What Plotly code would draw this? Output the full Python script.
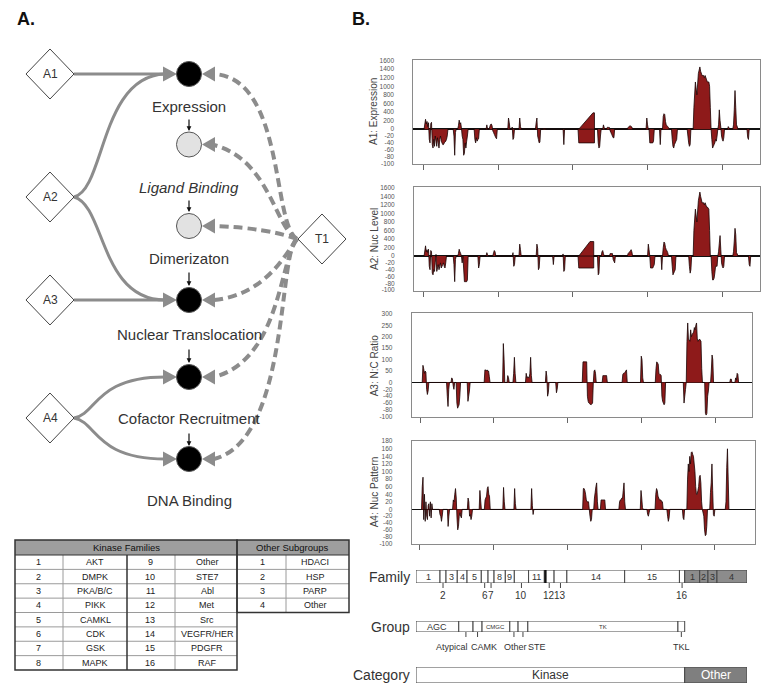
import plotly.graph_objects as go

W, H = 768, 690
FONT = "Liberation Sans, Arial, sans-serif"

# ---------------- data ----------------
# compound index along the screen, and value per assay
a1_idx = [1,3,4,5,6,7,8,9,10,11,12,13,14,15,16,17,18,19,20,21,22,23,24,25,26,27,28,29,30,31,32,33,
          40,41,42,43,44,46,47,48,49,50,51,52,53,54,55,56,57,58,59,60,
          68,69,70,71,72,73,74,75,84,85,86,88,89,90,91,92,93,94,95,96,97,98,99,
          113,114,115,116,118,119,120,121,122,128,129,130,131,150,151,152,153,154,155,156,157,
          160,161,163,164,187,188,189,
          207,208,229,229,227,208,
          233,234,235,236,237,238,240,241,242,243,245,246,247,248,249,250,251,252,253,254,255,256,
          273,274,275,276,277,278,279,280,298,299,300,301,302,303,304,305,306,307,308,309,316,317,318,
          320,321,322,323,324,325,326,327,328,329,332,333,334,335,336,337,338,339,340,
          353,354,355,356,357,358,
          361,362,364,366,368,370,371,373,375,376,377,379,380,382,383,384,385,
          386,387,388,389,390,391,392,393,394,395,396,397,398,399,400,401,402,403,
          407,408,409,410,414,415,416,417,418,419,420,421,433,434,435,436]
a1_val = [0,230,120,180,60,150,-30,-40,130,160,-45,-55,-30,-50,-20,-35,-50,-25,-40,-55,-30,-20,-35,-40,-45,-45,-40,-38,-35,-30,-20,0,
          0,-20,-76,-10,0,0,80,210,120,150,30,-20,-30,-76,-70,-40,-55,-35,-20,0,
          0,-30,-40,-25,-35,-30,-28,0,0,100,0,0,60,110,120,80,-5,-10,-15,-20,-25,-28,0,
          0,260,150,0,0,50,-30,-25,0,0,260,60,0,0,150,260,-20,-30,-40,-38,0,
          0,15,15,0,0,-45,0,
          0,-40,-40,380,380,0,
          0,-40,-55,-50,-20,0,0,100,40,0,0,40,45,40,40,-5,-10,-15,-20,-25,-25,0,
          0,40,60,70,80,60,50,0,0,260,100,0,0,-40,-40,-40,-40,-40,-35,0,0,-45,0,
          0,300,360,340,180,100,80,60,40,0,0,-30,-50,-55,-45,-40,-35,-30,0,
          0,-20,-40,-50,-45,0,
          0,500,1100,800,1300,1450,1350,1250,1250,1200,1250,1150,1100,1100,1000,500,0,
          -30,-55,-50,-45,-40,-30,-35,-20,0,100,450,200,50,-20,-30,-35,-25,0,
          0,60,30,0,0,100,450,900,500,100,60,0,0,-25,-30,0]

a2_idx = [1,3,4,5,6,7,8,9,10,11,12,13,14,15,16,17,18,19,20,21,22,23,24,25,26,27,28,29,30,31,
          40,41,42,43,44,46,47,48,49,50,51,52,53,55,56,57,58,59,60,
          73,74,75,76,84,85,86,87,93,94,95,96,97,
          119,120,121,122,123,128,129,130,131,151,152,153,154,155,156,173,174,175,186,187,188,189,190,
          207,208,228,228,223,208,
          233,234,235,236,238,239,240,241,242,249,250,251,252,253,254,255,256,257,
          273,274,275,276,277,278,279,280,300,301,302,303,304,305,306,307,308,309,310,318,319,
          320,321,322,323,324,325,326,327,328,332,333,334,335,336,337,338,355,356,357,358,359,
          361,362,364,366,368,370,371,373,375,376,377,379,380,382,383,384,
          385,386,387,388,389,390,391,392,393,394,395,396,397,398,399,400,401,402,403,
          414,415,416,417,418,419,420,421,435,436,437,438]
a2_val = [0,240,100,150,80,160,-30,-40,130,100,-50,-55,-40,-45,-20,40,-45,-35,-25,-40,-30,-20,-35,-30,-25,-20,-30,-35,-20,0,
          0,-25,-75,-10,0,0,60,160,100,60,0,-20,0,-75,-75,-75,-75,-70,0,
          0,-35,-25,0,0,80,30,0,0,80,130,100,0,
          0,80,-30,-25,0,0,280,150,0,0,280,180,-40,-35,0,0,-25,0,0,50,-45,-40,0,
          0,-35,-35,340,340,0,
          0,-55,-50,0,0,100,130,60,0,0,60,60,60,60,-10,-15,-20,0,
          0,60,80,100,120,150,100,0,0,280,150,0,-35,-35,-35,-35,-30,-25,0,0,-40,
          0,200,330,300,200,150,120,80,0,0,-30,-55,-50,-45,-40,0,0,-30,-50,-40,0,
          0,600,1100,800,1300,1500,1400,1250,1250,1200,1250,1150,1150,1100,600,0,
          0,-45,-70,-70,-65,-50,-30,-30,-30,0,100,300,480,150,-20,-30,-35,-30,0,
          0,100,350,650,500,80,50,0,0,-25,-30,0]

a3_idx = [3,4,5,6,7,8,9,10,11,12,36,37,38,39,40,42,43,44,45,46,47,49,50,51,52,53,54,55,
          64,65,66,67,68,87,88,89,90,91,92,93,94,95,112,113,114,115,118,119,120,121,
          126,127,128,129,130,143,144,145,146,148,149,150,151,152,170,171,172,173,174,175,184,185,186,187,
          220,221,224,226,227,228,229,230,232,234,235,236,237,238,239,
          247,248,249,250,251,252,253,254,274,275,276,277,278,279,280,281,299,300,301,302,303,
          319,320,321,322,323,324,325,326,327,328,329,330,331,332,333,357,358,359,360,361,
          362,363,364,366,367,368,369,371,372,373,374,375,376,377,379,381,382,383,
          386,387,388,389,390,391,392,394,395,396,397,398,420,421,422,423,427,428,429,430,431,432]
a3_val = [0,75,60,40,50,45,-20,-35,-25,0,0,-40,-70,-20,0,0,20,15,-10,-20,0,0,-60,-75,-70,-65,-40,0,
          0,-55,-40,-25,0,0,55,55,50,55,50,50,25,0,0,170,100,0,0,30,20,0,
          0,40,110,40,0,0,40,20,25,20,40,110,30,0,0,50,25,-40,-30,0,0,-30,-20,0,
          0,90,90,90,-40,-55,-60,-62,-65,-60,0,50,55,40,0,
          0,30,30,30,30,30,30,0,0,35,40,40,45,50,55,0,0,115,100,20,0,
          0,60,90,85,80,40,35,35,30,-40,-55,-60,-65,-60,0,0,-60,-40,-20,0,
          180,260,190,180,230,200,210,220,240,230,250,260,190,180,190,180,60,0,
          0,-90,-95,-90,-40,-25,0,0,50,120,100,0,0,15,15,0,0,20,10,40,35,0]

a4_idx = [3,4,5,6,7,8,9,10,11,12,13,14,15,16,17,18,27,28,29,30,31,32,38,39,40,41,
          45,46,47,48,49,50,51,52,53,54,55,56,57,58,65,66,67,68,69,70,71,72,81,82,83,84,
          88,89,90,91,92,93,94,95,96,113,114,115,116,128,129,130,131,151,152,153,154,155,
          221,222,223,224,225,226,227,228,229,230,231,232,233,234,236,237,238,239,240,241,242,
          245,246,247,248,249,250,251,252,270,271,272,273,274,275,276,277,278,279,
          299,300,301,302,303,308,309,310,311,312,
          319,320,321,322,323,324,325,326,327,328,329,330,335,336,337,338,339,356,357,358,359,
          362,363,364,365,366,367,368,369,370,371,372,373,374,375,376,377,378,379,380,381,382,383,
          385,386,387,388,389,390,393,394,395,396,397,398,399,400,414,415,416,417,418,419]
a4_val = [0,60,85,-30,40,-35,20,-20,-30,10,15,-20,20,-25,15,0,0,-15,-20,-35,-20,0,0,-50,-20,0,
          0,25,20,40,55,30,-25,-60,-50,-20,-10,-20,-25,0,0,30,20,-20,-15,-30,-20,0,0,50,25,0,
          0,25,30,35,55,60,40,35,0,0,58,20,0,0,55,15,0,0,55,10,-15,0,
          0,55,55,50,40,25,20,20,20,0,-20,-35,-30,0,0,30,45,60,70,20,0,
          0,25,25,25,25,25,25,0,0,20,25,25,30,30,50,70,20,0,
          0,50,30,5,0,0,-15,-20,-10,0,
          0,40,55,50,35,30,25,25,25,20,20,0,0,-20,-35,-25,0,0,-25,-30,0,
          0,80,120,100,140,120,150,152,145,140,120,100,60,40,40,50,60,85,90,70,20,0,
          -20,-60,-77,-75,-50,0,0,45,70,120,50,-15,-20,0,0,20,110,160,80,0]

a1_ticks = [1600, 1400, 1200, 1000, 800, 600, 400, 200, 0, -20, -40, -60, -80, -100]
a2_ticks = [1600, 1400, 1200, 1000, 800, 600, 400, 200, 0, -20, -40, -60, -80, -100]
a3_ticks = [300, 250, 200, 150, 100, 50, 0, -20, -40, -60, -80, -100]
a4_ticks = [180, 160, 140, 120, 100, 80, 60, 40, 20, 0, -20, -40, -60, -80, -100]
x_ticks = [0, 100, 200, 300, 400]

family_labels = ['1', '2', '3', '4', '5', '6', '7', '8', '9', '10', '11', '12', '13', '14', '15', '16',
                 '1', '2', '3', '4']
family_sizes = [32, 8, 15, 13, 19, 9, 8, 15, 12, 19, 21, 13, 17, 77, 73, 7, 20, 11, 12, 40]
family_below = ['2', '6', '7', '10', '12', '13', '16']

group_names = ['AGC', 'Atypical', 'CAMK', 'CMGC', 'Other', 'STE', 'TK', 'TKL']
group_sizes = [57, 19, 12, 37, 11, 13, 200, 9]

category_names = ['Kinase', 'Other']
n_kinase_families = 16

kinase_families = ['AKT', 'DMPK', 'PKA/B/C', 'PIKK', 'CAMKL', 'CDK', 'GSK', 'MAPK',
                   'Other', 'STE7', 'Abl', 'Met', 'Src', 'VEGFR/HER', 'PDGFR', 'RAF']
other_subgroups = ['HDACI', 'HSP', 'PARP', 'Other']

pathway_steps = ['Expression', '<i>Ligand Binding</i>', 'Dimerizaton', 'Nuclear Translocation',
                 'Cofactor Recruitment', 'DNA Binding']
assays = ['A1', 'A2', 'A3', 'A4']


# ---------------- helpers ----------------
def X(px):
    return px / W


def Y(py):
    return 1 - py / H


def to_axis(vals, top):
    return [v * 2.0 / top if v >= 0 else v / 100.0 for v in vals]


def cumstarts(sizes):
    out, s = [], 0
    for v in sizes:
        out.append(s)
        s += v
    return out


def pt(p):
    return f"{X(p[0]):.5f},{Y(p[1]):.5f}"


def path(cmds):
    parts = []
    for letter, pts in cmds:
        parts.append(letter + " " + " ".join(pt(p) for p in pts))
    return " ".join(parts)


def poly(points):
    return "M " + pt(points[0]) + " " + " ".join("L " + pt(p) for p in points[1:]) + " Z"


fig = go.Figure()
shapes = []
annos = []


def txt(x, y, text, size=10, color='#333', xanchor='center', yanchor='middle', angle=0, xref='paper', xshift=0):
    annos.append(dict(x=x if xref != 'paper' else X(x), y=Y(y), xref=xref, yref='paper', text=text,
                      showarrow=False, xanchor=xanchor, yanchor=yanchor, textangle=angle, xshift=xshift,
                      font=dict(family=FONT, size=size, color=color)))


# ---------------- panel B: four area plots ----------------
panels = [
    dict(title='A1: Expression', idx=a1_idx, val=a1_val, ticks=a1_ticks, box=(413.3, 760, 60, 164), t0=423.3, step=74.75),
    dict(title='A2: Nuc Level', idx=a2_idx, val=a2_val, ticks=a2_ticks, box=(414, 760, 187.3, 290.7), t0=423.3, step=74.75),
    dict(title='A3: N:C Ratio', idx=a3_idx, val=a3_val, ticks=a3_ticks, box=(411.7, 752.3, 313.3, 417.3), t0=420.0, step=73.75),
    dict(title='A4: Nuc Pattern', idx=a4_idx, val=a4_val, ticks=a4_ticks, box=(411.7, 755, 440.7, 544), t0=419.3, step=73.9),
]

for i, p in enumerate(panels, start=1):
    top = p['ticks'][0]
    sfx = '' if i == 1 else str(i)
    fig.add_trace(go.Scatter(x=p['idx'], y=to_axis(p['val'], top), mode='lines', fill='tozeroy',
                             fillcolor='#8e1a1a', line=dict(color='#1a0505', width=0.8, simplify=False),
                             xaxis='x' + sfx, yaxis='y' + sfx, hoverinfo='skip', showlegend=False))
    x0, x1, y0, y1 = p['box']
    xr = [(x0 - p['t0']) / p['step'] * 100, (x1 - p['t0']) / p['step'] * 100]
    fig.update_layout(**{
        'xaxis' + sfx: dict(domain=[X(x0), X(x1)], range=xr, anchor='y' + sfx, showgrid=False, zeroline=False,
                            showline=True, mirror=True, linecolor='#8a8a8a', linewidth=1,
                            ticks='outside', tickvals=x_ticks, ticklen=5, tickcolor='#666',
                            showticklabels=False, fixedrange=True),
        'yaxis' + sfx: dict(domain=[Y(y1), Y(y0)], range=[-1.015, 2.015], anchor='x' + sfx, showgrid=False,
                            zeroline=True, zerolinecolor='#111', zerolinewidth=1.5,
                            showline=True, mirror=True, linecolor='#8a8a8a', linewidth=1,
                            tickvals=to_axis(p['ticks'], top), ticktext=[str(t) for t in p['ticks']],
                            tickfont=dict(family=FONT, size=6.5, color='#555'), ticks='',
                            ticklabelstandoff=17, fixedrange=True),
    })
    txt(374, (y0 + y1) / 2, p['title'], size=10, color='#444', angle=-90)

# ---------------- panel B: family / group / category bars ----------------
BAR_L, BAR_R = 416, 747
total = sum(family_sizes)
fam_start = cumstarts(family_sizes)
grp_start = cumstarts(group_sizes)
cat_sizes = [sum(family_sizes[:n_kinase_families]), sum(family_sizes[n_kinase_families:])]
cat_start = cumstarts(cat_sizes)

fam_colors = ['white'] * n_kinase_families + ['#8c8c8c'] * (len(family_sizes) - n_kinase_families)
fig.add_trace(go.Bar(x=family_sizes, base=fam_start, y=[0] * len(family_sizes), orientation='h', width=1,
                     marker=dict(color=fam_colors, line=dict(color='#444', width=1)),
                     xaxis='x5', yaxis='y5', hoverinfo='skip', showlegend=False))
fig.add_trace(go.Bar(x=group_sizes, base=grp_start, y=[0] * len(group_sizes), orientation='h', width=1,
                     marker=dict(color='white', line=dict(color='#444', width=1)),
                     xaxis='x5', yaxis='y6', hoverinfo='skip', showlegend=False))
fig.add_trace(go.Bar(x=cat_sizes, base=cat_start, y=[0, 0], orientation='h', width=1,
                     marker=dict(color=['white', '#7f7f7f'], line=dict(color='#444', width=1)),
                     xaxis='x5', yaxis='y7', hoverinfo='skip', showlegend=False))

hidden = dict(visible=False, fixedrange=True)
fig.update_layout(
    xaxis5=dict(domain=[X(BAR_L), X(BAR_R)], range=[0, total], anchor='y5', **hidden),
    yaxis5=dict(domain=[Y(583), Y(570)], range=[-0.5, 0.5], anchor='x5', **hidden),
    yaxis6=dict(domain=[Y(632), Y(621)], range=[-0.5, 0.5], anchor='x5', **hidden),
    yaxis7=dict(domain=[Y(683), Y(667)], range=[-0.5, 0.5], anchor='x5', **hidden),
)

# family 12 shown with a dark band
k12 = family_labels.index('12')
shapes.append(dict(type='rect', xref='x5', yref='y5', x0=fam_start[k12], x1=fam_start[k12] + 3, y0=-0.5, y1=0.5,
                   fillcolor='#111', line=dict(width=0), layer='above'))

for k, (lab, s, st) in enumerate(zip(family_labels, family_sizes, fam_start)):
    c = st + s / 2
    if k < n_kinase_families and lab in family_below:
        shapes.append(dict(type='line', xref='x5', yref='paper', x0=c, x1=c, y0=Y(583), y1=Y(588),
                           line=dict(color='#444', width=1)))
        txt(c, 595, lab, size=10, color='#333', xref='x5')
    else:
        txt(c, 576.5, lab, size=9, color='#333', xref='x5')

grp_label_shift = {'Atypical': -14, 'CAMK': 6, 'Other': 2, 'STE': 14, 'TKL': 0}
for g, s, st in zip(group_names, group_sizes, grp_start):
    c = st + s / 2
    if g in grp_label_shift:
        shapes.append(dict(type='line', xref='x5', yref='paper', x0=c, x1=c, y0=Y(632), y1=Y(637),
                           line=dict(color='#444', width=1)))
        txt(c, 647, g, size=9, color='#333', xref='x5', xshift=grp_label_shift[g])
    elif g == 'AGC':
        txt(c, 626.5, g, size=9, color='#333', xref='x5')
    else:
        txt(c, 626.5, g.upper(), size=6, color='#333', xref='x5')

for name, s, st in zip(category_names, cat_sizes, cat_start):
    txt(st + s / 2, 675, name, size=12, color='#333' if name == 'Kinase' else 'white', xref='x5')

txt(412, 577, 'Family', size=14, color='#333', xanchor='right')
txt(412, 627, 'Group', size=14, color='#333', xanchor='right')
txt(412, 675, 'Category', size=14, color='#333', xanchor='right')

# ---------------- panel A: pathway diagram ----------------
GRAY = '#8c8c8c'
node_x = 189
node_y = [74, 144.5, 226, 300, 377, 459]
node_fill = ['#000', '#e2e2e2', '#e2e2e2', '#000', '#000', '#000']
label_y = [106, 187, 258, 335, 418, 500]
small_arrow = [(118, 131), (199, 212), (271, 286), (348, 363), (432, 446)]
assay_y = {'A1': 74, 'A2': 197, 'A3': 300, 'A4': 418}
T1 = (322, 239)

# solid assay arrows
solid = [
    [('M', [(74, 74)]), ('L', [(165, 74)])],
    [('M', [(74, 197)]), ('C', [(105, 190), (100, 76), (165, 74)])],
    [('M', [(74, 197)]), ('C', [(105, 205), (100, 300), (165, 300)])],
    [('M', [(74, 300)]), ('L', [(165, 300)])],
    [('M', [(74, 418)]), ('C', [(97, 414), (95, 377), (165, 377)])],
    [('M', [(74, 418)]), ('C', [(97, 422), (95, 459), (165, 459)])],
]
for cmd in solid:
    shapes.append(dict(type='path', xref='paper', yref='paper', path=path(cmd),
                       line=dict(color=GRAY, width=3)))

# dashed T1 arrows
dashed = [
    [('M', [(297, 239)]), ('C', [(272, 225), (285, 78), (214, 74)])],
    [('M', [(297, 239)]), ('C', [(275, 228), (270, 160), (214, 145)])],
    [('M', [(297, 239)]), ('Q', [(268, 228), (214, 226)])],
    [('M', [(297, 239)]), ('C', [(285, 255), (265, 295), (214, 300)])],
    [('M', [(297, 239)]), ('C', [(280, 260), (280, 360), (214, 377)])],
    [('M', [(297, 239)]), ('C', [(278, 250), (290, 440), (214, 459)])],
]
for cmd in dashed:
    shapes.append(dict(type='path', xref='paper', yref='paper', path=path(cmd),
                       line=dict(color=GRAY, width=4, dash='9px,5px')))

# arrowheads
for yy in [74, 300, 377, 459]:
    shapes.append(dict(type='path', xref='paper', yref='paper',
                       path=poly([(177, yy), (163, yy - 7.5), (163, yy + 7.5)]),
                       fillcolor=GRAY, line=dict(width=0)))
for yy in node_y:
    shapes.append(dict(type='path', xref='paper', yref='paper',
                       path=poly([(202, yy), (215, yy - 7.5), (215, yy + 7.5)]),
                       fillcolor=GRAY, line=dict(width=0)))

# nodes
for yy, fc in zip(node_y, node_fill):
    shapes.append(dict(type='circle', xref='paper', yref='paper', x0=X(node_x - 12.5), x1=X(node_x + 12.5),
                       y0=Y(yy + 12.5), y1=Y(yy - 12.5), fillcolor=fc, line=dict(color='#555', width=1)))

# diamonds
for name, (cx, cy) in [(a, (50, assay_y[a])) for a in assays] + [('T1', T1)]:
    shapes.append(dict(type='path', xref='paper', yref='paper',
                       path=poly([(cx - 24, cy), (cx, cy - 25), (cx + 24, cy), (cx, cy + 25)]),
                       fillcolor='white', line=dict(color='#444', width=1)))
    txt(cx, cy, name, size=12, color='#333')

for lab, yy in zip(pathway_steps, label_y):
    txt(node_x, yy, lab, size=15, color='#333')

for (ya, yb) in small_arrow:
    annos.append(dict(x=X(node_x), y=Y(yb), xref='paper', yref='paper', ax=0, ay=-(yb - ya), text='',
                      showarrow=True, arrowhead=2, arrowsize=0.8, arrowwidth=1.2, arrowcolor='#111', standoff=0))

# panel letters
txt(26, 19, '<b>A.</b>', size=18, color='#111')
txt(361, 19, '<b>B.</b>', size=18, color='#111')

# ---------------- panel A: table ----------------
TX0, TX1, OX1 = 15, 237, 349
HY0, HY1 = 540, 555
RH = 14.375
KY1 = HY1 + 8 * RH
OY1 = HY1 + 4 * RH
shapes.append(dict(type='rect', xref='paper', yref='paper', x0=X(TX0), x1=X(OX1), y0=Y(HY1), y1=Y(HY0),
                   fillcolor='#9e9e9e', line=dict(width=0)))
for r in range(1, 8):
    yy = HY1 + r * RH
    shapes.append(dict(type='line', xref='paper', yref='paper', x0=X(TX0), x1=X(TX1), y0=Y(yy), y1=Y(yy),
                       line=dict(color='#9a9a9a', width=1)))
for r in range(1, 4):
    yy = HY1 + r * RH
    shapes.append(dict(type='line', xref='paper', yref='paper', x0=X(TX1), x1=X(OX1), y0=Y(yy), y1=Y(yy),
                       line=dict(color='#9a9a9a', width=1)))
for xx in [63, 175]:
    shapes.append(dict(type='line', xref='paper', yref='paper', x0=X(xx), x1=X(xx), y0=Y(HY1), y1=Y(KY1),
                       line=dict(color='#9a9a9a', width=1)))
shapes.append(dict(type='line', xref='paper', yref='paper', x0=X(286), x1=X(286), y0=Y(HY1), y1=Y(OY1),
                   line=dict(color='#9a9a9a', width=1)))
shapes.append(dict(type='line', xref='paper', yref='paper', x0=X(127), x1=X(127), y0=Y(HY1), y1=Y(KY1),
                   line=dict(color='#333', width=1.5)))
shapes.append(dict(type='line', xref='paper', yref='paper', x0=X(TX0), x1=X(OX1), y0=Y(HY1), y1=Y(HY1),
                   line=dict(color='#333', width=1.2)))
shapes.append(dict(type='rect', xref='paper', yref='paper', x0=X(TX0), x1=X(TX1), y0=Y(KY1), y1=Y(HY0),
                   line=dict(color='#333', width=1.5)))
shapes.append(dict(type='rect', xref='paper', yref='paper', x0=X(TX1), x1=X(OX1), y0=Y(OY1), y1=Y(HY0),
                   line=dict(color='#333', width=1.5)))
txt(126, 547.5, 'Kinase Families', size=9.5, color='#111')
txt(292, 547.5, 'Other Subgroups', size=9.5, color='#111')
for i, name in enumerate(kinase_families):
    col = i // 8
    yy = HY1 + (i % 8 + 0.5) * RH
    txt(38 if col == 0 else 150, yy, str(i + 1), size=9, color='#222')
    txt(95 if col == 0 else 207, yy, name, size=9, color='#222')
for i, name in enumerate(other_subgroups):
    yy = HY1 + (i + 0.5) * RH
    txt(262, yy, str(i + 1), size=9, color='#222')
    txt(315, yy, name, size=9, color='#222')

fig.update_layout(
    width=W, height=H, margin=dict(l=0, r=0, t=0, b=0, pad=0),
    paper_bgcolor='white', plot_bgcolor='white', template='none',
    barmode='overlay', showlegend=False,
    shapes=shapes, annotations=annos,
    font=dict(family=FONT),
)

fig.write_html("out.html", config={'displayModeBar': False, 'staticPlot': True},
               post_script="document.body.style.margin='0';")
